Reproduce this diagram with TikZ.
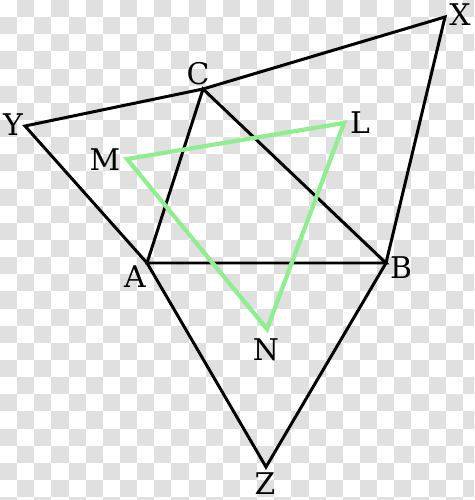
\documentclass[tikz,border=0pt]{standalone}
\usepackage{fontspec}
\setmainfont{DejaVu Serif}
\usepackage{tikz}

\definecolor{lgreen}{RGB}{144,238,144}
\definecolor{checkgray}{RGB}{224,224,224}

\tikzset{
  side/.style={draw=black, line width=1.7pt, line join=miter},
  napo/.style={draw=lgreen, line width=2.4pt, line join=miter},
  lbl/.style={font=\fontsize{17}{17}\selectfont, inner sep=0pt}
}

\begin{document}
\begin{tikzpicture}[x=0.02cm,y=-0.02cm]
\useasboundingbox (0,0) rectangle (474,500);

% background squares
\begin{scope}
\clip (0,0) rectangle (474,500);
\fill[white] (0,0) rectangle (474,500);
\foreach \i in {0,...,27}{
  \foreach \j in {0,...,29}{
    \pgfmathtruncatemacro\odd{mod(\i+\j,2)}
    \ifnum\odd=1
      \fill[checkgray] (\i*17.14,\j*17.14) rectangle ++(17.14,17.14);
    \fi
  }
}
\end{scope}

\coordinate (A) at (147,263);
\coordinate (B) at (386,263);
\coordinate (C) at (203,89);
\coordinate (X) at (445,17);
\coordinate (Y) at (25,126);
\coordinate (Z) at (266,467);
\coordinate (L) at (344,123);
\coordinate (M) at (127,159);
\coordinate (N) at (267,329);

\draw[side] (A) -- (B) -- (C) -- cycle;
\draw[side] (C) -- (X) -- (B);
\draw[side] (C) -- (Y) -- (A);
\draw[side] (A) -- (Z) -- (B);

\draw[napo] (L) -- (M) -- (N) -- cycle;

\node[lbl] (lX) at (460,15) {X};
\node[lbl] (lY) at (13,125) {Y};
\node[lbl] (lC) at (198,74) {C};
\node[lbl] (lL) at (360,123) {L};
\node[lbl] (lM) at (105,160) {M};
\node[lbl] (lA) at (135,277) {A};
\node[lbl] (lB) at (401,268) {B};
\node[lbl] (lN) at (266,350) {N};
\node[lbl] (lZ) at (265,484) {Z};
\end{tikzpicture}
\end{document}
